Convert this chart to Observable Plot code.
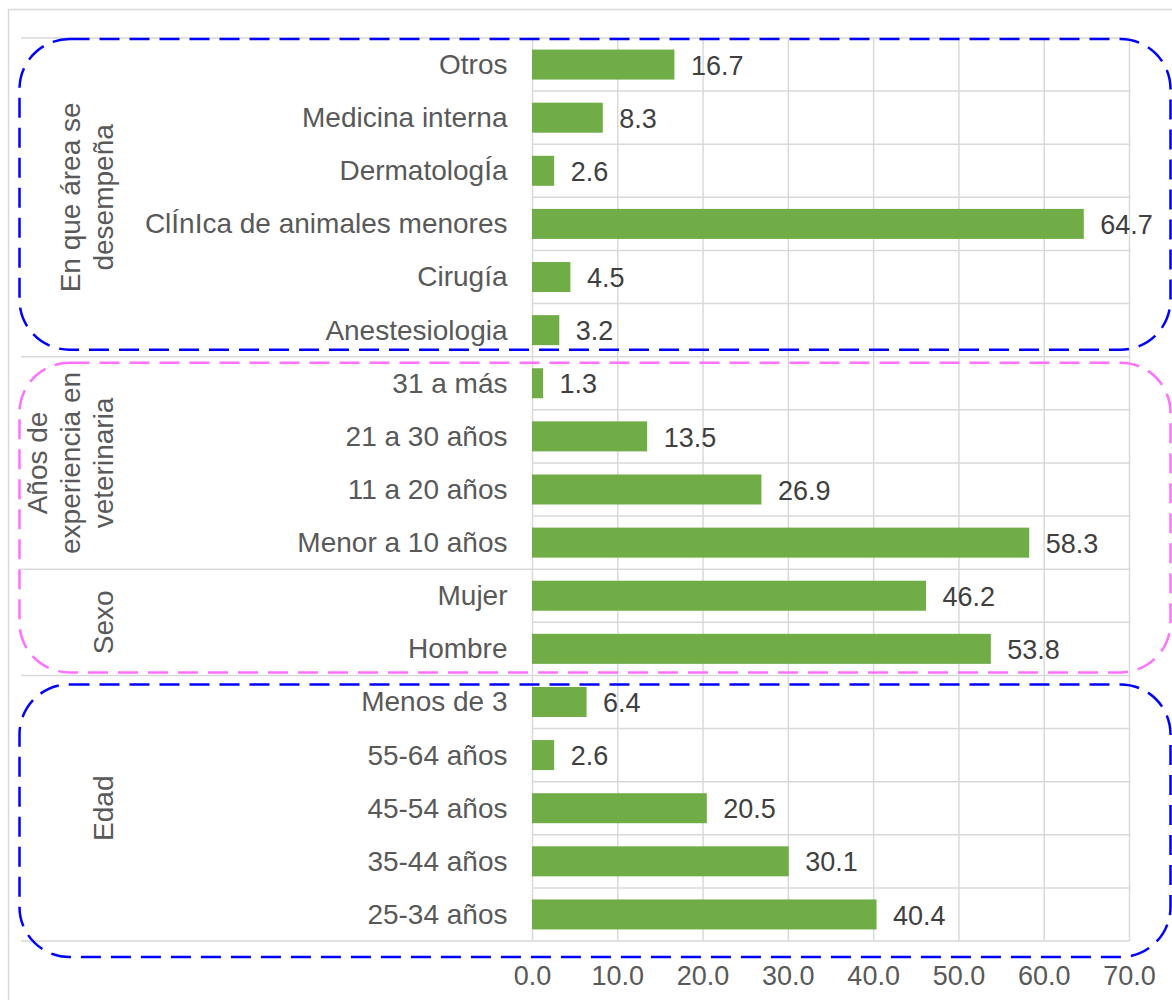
<!DOCTYPE html>
<html><head><meta charset="utf-8">
<script src="https://cdn.jsdelivr.net/npm/d3@7"></script>
<script src="https://cdn.jsdelivr.net/npm/@observablehq/plot@0.6"></script>
<style>html,body{margin:0;padding:0;background:#fff;overflow:hidden}</style>
</head><body><div id="chart"></div>
<script>
const categories = ["Otros","Medicina interna","DermatologÍa","ClÍnIca de animales menores","Cirugía","Anestesiologia","31 a más","21 a 30 años","11 a 20 años","Menor a 10 años","Mujer","Hombre","Menos de 3","55-64 años","45-54 años","35-44 años","25-34 años"];
const values = [16.7,8.3,2.6,64.7,4.5,3.2,1.3,13.5,26.9,58.3,46.2,53.8,6.4,2.6,20.5,30.1,40.4];
const groupNames = [["En que área se","desempeña"],["Años de","experiencia en","veterinaria"],["Sexo"],["Edad"]];
const groupSizes = [6,4,2,5];
const xTicks = [0,10,20,30,40,50,60,70];
const boxGroups = [[0],[1,2],[3]];

const data = categories.map((c,i)=>({category:c, value:values[i]}));
const W = 1172, H = 1000;
const FONT = "'Liberation Sans', Arial, sans-serif";
const fmt = d3.format(".1f");

const plot = Plot.plot({
  width: W, height: H,
  marginTop: 38, marginBottom: 59, marginLeft: 532, marginRight: 43,
  style: {fontFamily: FONT, fontSize: "27px", color: "#595959", background: "#fff", overflow: "visible"},
  x: {domain: [0,70], ticks: xTicks, tickFormat: fmt},
  y: {domain: categories, paddingInner: 0.435, paddingOuter: 0.2175, round: false},
  marks: [
    Plot.ruleX(xTicks, {stroke: "#d9d9d9", strokeWidth: 1.5}),
    Plot.barX(data, {x: "value", y: "category", fill: "#70AD47"}),
    Plot.text(data, {x: "value", y: "category", text: d => fmt(d.value), textAnchor: "start", dx: 16, dy: 1, fill: "#404040", fontSize: 27}),
    Plot.axisX({ticks: xTicks, tickSize: 0, tickPadding: 24, tickFormat: fmt, label: null, fontSize: 27}),
    Plot.axisY({tickSize: 0, tickPadding: 25, label: null, fontSize: 28})
  ]
});
document.getElementById("chart").appendChild(plot);

const ys = plot.scale("y"), xs = plot.scale("x");
const step = ys.step, bw = ys.bandwidth;
const rowTop = i => i < categories.length ? ys.apply(categories[i]) - (step - bw) / 2 : ys.apply(categories[categories.length-1]) - (step - bw) / 2 + step;
const svg = d3.select(plot);

const starts = []; let acc = 0;
groupSizes.forEach(s => { starts.push(acc); acc += s; });
const boundaries = new Set([...starts, acc]);

svg.insert("rect", ":first-child").attr("x", 8.5).attr("y", 9.5).attr("width", W).attr("height", H)
  .attr("fill", "none").attr("stroke", "#d9d9d9").attr("stroke-width", 1.5);

const sep = svg.insert("g", "g");
for (let i = 0; i <= categories.length; i++) {
  const y = rowTop(i);
  sep.append("line").attr("x1", boundaries.has(i) ? 21 : xs.apply(0)).attr("x2", xs.apply(70))
    .attr("y1", y).attr("y2", y).attr("stroke", "#d9d9d9").attr("stroke-width", 1.5);
}

const gl = svg.append("g").attr("fill", "#595959").attr("font-size", 28).attr("font-family", FONT);
groupNames.forEach((lines, g) => {
  const cy = (rowTop(starts[g]) + rowTop(starts[g] + groupSizes[g])) / 2;
  const n = lines.length;
  lines.forEach((t, j) => {
    const x = 103 - (n - 1 - j) * 33;
    gl.append("text").attr("transform", `translate(${x},${cy}) rotate(-90)`)
      .attr("text-anchor", "middle").attr("dy", "0.35em").text(t);
  });
});

const boxStyle = [
  {color: "#0000FF", dt: 1, db: -7},
  {color: "#FF70FF", dt: 6, db: -3},
  {color: "#0000FF", dt: 9, db: 16}
];
const bx = svg.append("g").attr("fill", "none");
boxGroups.forEach((gs, k) => {
  const first = gs[0], last = gs[gs.length - 1];
  const top = rowTop(starts[first]) + boxStyle[k].dt;
  const bottom = rowTop(starts[last] + groupSizes[last]) + boxStyle[k].db;
  bx.append("rect").attr("x", 19.5).attr("y", top).attr("width", 1151).attr("height", bottom - top)
    .attr("rx", 50).attr("ry", 50).attr("stroke", boxStyle[k].color).attr("stroke-width", 2.5)
    .attr("stroke-dasharray", "20 10");
});
</script>
</body></html>
